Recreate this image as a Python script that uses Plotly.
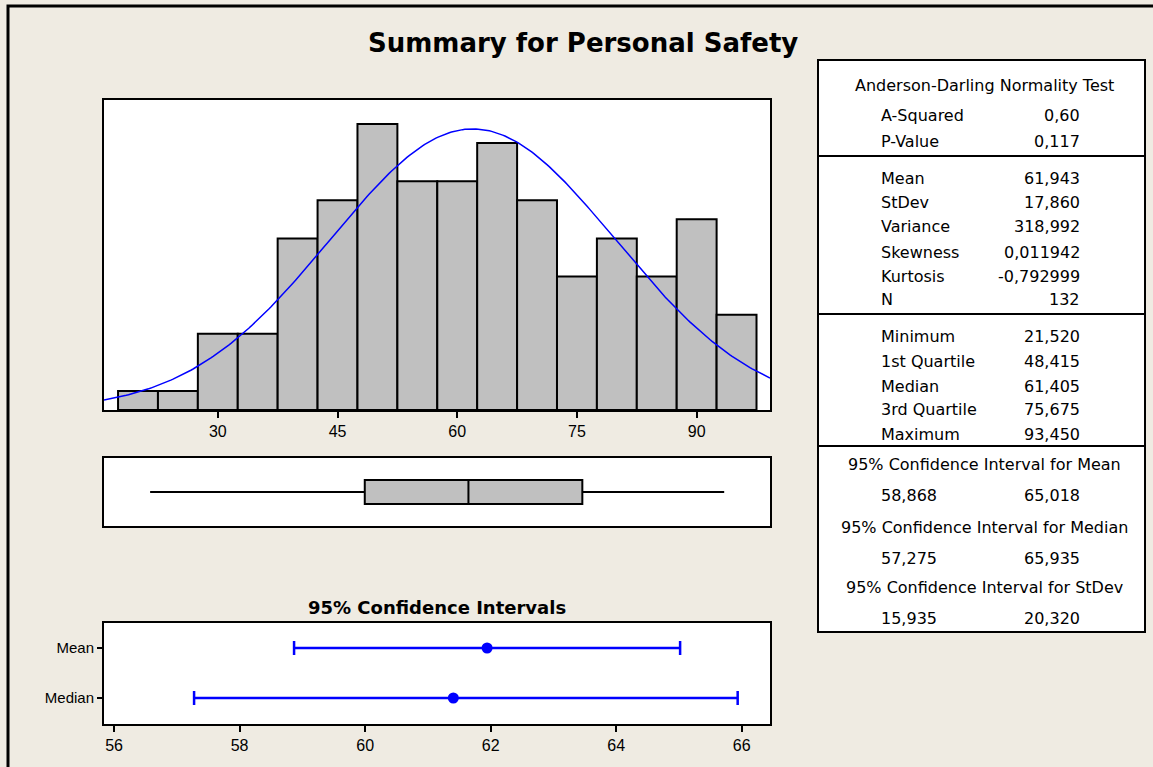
"""Graphical summary: Personal Safety (histogram, boxplot, CI, stats table)"""
import numpy as np
import plotly.graph_objects as go

# histogram data (bin midpoints, counts)
BIN_MIDPOINTS = [20, 25, 30, 35, 40, 45, 50, 55, 60, 65, 70, 75, 80, 85, 90, 95]
COUNTS = [1, 1, 4, 4, 9, 11, 15, 12, 12, 14, 11, 7, 9, 7, 10, 5]
BIN_WIDTH = 5
HIST_TICKS = [30, 45, 60, 75, 90]

# summary statistics
MEAN = 61.943
STDEV = 17.860
N = 132
MINIMUM = 21.520
Q1 = 48.415
MEDIAN = 61.405
Q3 = 75.675
MAXIMUM = 93.450

# 95% confidence intervals
CI_LABELS = ['Mean', 'Median']
CI_CENTERS = [MEAN, MEDIAN]
CI_LOWER = [58.868, 57.275]
CI_UPPER = [65.018, 65.935]
CI_TICKS = [56, 58, 60, 62, 64, 66]

# table text
AD_ROWS = [('A-Squared', '0,60'), ('P-Value', '0,117')]
MOMENT_ROWS = [('Mean', '61,943'), ('StDev', '17,860'), ('Variance', '318,992'),
               ('Skewness', '0,011942'), ('Kurtosis', '-0,792999'), ('N', '132')]
QUANTILE_ROWS = [('Minimum', '21,520'), ('1st Quartile', '48,415'), ('Median', '61,405'),
                 ('3rd Quartile', '75,675'), ('Maximum', '93,450')]
CI_TABLE = [('95% Confidence Interval for Mean', '58,868', '65,018'),
            ('95% Confidence Interval for Median', '57,275', '65,935'),
            ('95% Confidence Interval for StDev', '15,935', '20,320')]

W, H = 1153, 767
BG = '#EFEBE2'
GRAY = '#C0C0C0'
BLUE = '#0000FF'
TABLE_FONT = 'DejaVu Sans, Verdana, sans-serif'
TICK_FONT = 'Liberation Sans, Arial, sans-serif'


def px_x(x):
    return x / W


def px_y(y):
    return 1 - y / H


fig = go.Figure()

# histogram + fitted normal curve
fig.add_trace(go.Bar(
    x=BIN_MIDPOINTS, y=COUNTS, width=BIN_WIDTH,
    marker=dict(color=GRAY, line=dict(color='black', width=2)),
    xaxis='x', yaxis='y', showlegend=False
))
hist_range = [15.74, 99.19]
xs = np.linspace(hist_range[0], hist_range[1], 300)
ys = N * BIN_WIDTH / (STDEV * np.sqrt(2 * np.pi)) * np.exp(-0.5 * ((xs - MEAN) / STDEV) ** 2)
fig.add_trace(go.Scatter(x=xs, y=ys, mode='lines', line=dict(color=BLUE, width=1.5),
                         xaxis='x', yaxis='y', showlegend=False))

# boxplot
fig.add_trace(go.Box(
    y=[0], q1=[Q1], median=[MEDIAN], q3=[Q3],
    lowerfence=[MINIMUM], upperfence=[MAXIMUM],
    orientation='h', width=0.7, whiskerwidth=0, boxpoints=False,
    fillcolor=GRAY, line=dict(color='black', width=2),
    xaxis='x2', yaxis='y2', showlegend=False
))

# confidence intervals
for i, lab in enumerate(CI_LABELS):
    fig.add_trace(go.Scatter(
        x=[CI_CENTERS[i]], y=[1 - i], mode='markers',
        marker=dict(color=BLUE, size=11),
        error_x=dict(type='data', symmetric=False,
                     array=[CI_UPPER[i] - CI_CENTERS[i]],
                     arrayminus=[CI_CENTERS[i] - CI_LOWER[i]],
                     color=BLUE, thickness=2.5, width=7),
        xaxis='x3', yaxis='y3', showlegend=False
    ))

plot_dom = [px_x(104), px_x(770)]
frame = dict(showline=True, mirror=True, linecolor='black', linewidth=2,
             showgrid=False, zeroline=False)
xtickfont = dict(family=TICK_FONT, size=16, color='black')
ytickfont = dict(family=TICK_FONT, size=15, color='black')

fig.update_layout(
    width=W, height=H,
    margin=dict(l=0, r=0, t=0, b=0),
    paper_bgcolor=BG, plot_bgcolor='white',
    xaxis=dict(domain=plot_dom, range=hist_range, tickvals=HIST_TICKS,
               ticks='outside', ticklen=6, tickwidth=2, tickcolor='black',
               tickfont=xtickfont, anchor='y', **frame),
    yaxis=dict(domain=[px_y(410), px_y(100)], range=[0, 16.26],
               showticklabels=False, ticks='', anchor='x', **frame),
    xaxis2=dict(domain=plot_dom, range=hist_range, showticklabels=False,
                ticks='', anchor='y2', **frame),
    yaxis2=dict(domain=[px_y(526), px_y(458)], range=[-1, 1],
                showticklabels=False, ticks='', anchor='x2', **frame),
    xaxis3=dict(domain=plot_dom, range=[55.84, 66.45], tickvals=CI_TICKS,
                ticks='outside', ticklen=6, tickwidth=2, tickcolor='black',
                tickfont=xtickfont, anchor='y3', **frame),
    yaxis3=dict(domain=[px_y(724), px_y(623)], range=[-0.52, 1.5],
                tickvals=[1, 0], ticktext=CI_LABELS,
                ticks='outside', ticklen=5, tickwidth=2, tickcolor='black',
                tickfont=ytickfont, anchor='x3', **frame),
)

shapes = []
annotations = []

# outer graph frame
shapes.append(dict(type='rect', xref='paper', yref='paper',
                   x0=px_x(8), x1=1.05, y0=-0.05, y1=px_y(6),
                   line=dict(color='black', width=3)))

# titles
annotations.append(dict(text='<b>Summary for Personal Safety</b>', x=px_x(583), y=px_y(43),
                        xref='paper', yref='paper', showarrow=False,
                        xanchor='center', yanchor='middle',
                        font=dict(family='DejaVu Sans, Verdana, sans-serif', size=26, color='black')))
annotations.append(dict(text='<b>95% Confidence Intervals</b>', x=px_x(437), y=px_y(607),
                        xref='paper', yref='paper', showarrow=False,
                        xanchor='center', yanchor='middle',
                        font=dict(family='DejaVu Sans, Verdana, sans-serif', size=18, color='black')))

# stats table
tx0, tx1 = 818, 1145
shapes.append(dict(type='rect', xref='paper', yref='paper',
                   x0=px_x(tx0), x1=px_x(tx1), y0=px_y(632), y1=px_y(60),
                   fillcolor='white', line=dict(color='black', width=2), layer='below'))
for ly in [156, 314, 446]:
    shapes.append(dict(type='line', xref='paper', yref='paper',
                       x0=px_x(tx0), x1=px_x(tx1), y0=px_y(ly), y1=px_y(ly),
                       line=dict(color='black', width=2)))

tfont = dict(family=TABLE_FONT, size=16, color='black')


def add_text(text, x, y, anchor):
    annotations.append(dict(text=text, x=px_x(x), y=px_y(y), xref='paper', yref='paper',
                            showarrow=False, xanchor=anchor, yanchor='middle', font=tfont))


lab_x, val_x = 879, 1082
add_text('Anderson-Darling Normality Test', 984, 86, 'center')
for (lab, val), y in zip(AD_ROWS, [116, 142]):
    add_text(lab, lab_x, y, 'left')
    add_text(val, val_x, y, 'right')
for (lab, val), y in zip(MOMENT_ROWS, [178, 203, 227, 252, 276, 300]):
    add_text(lab, lab_x, y, 'left')
    add_text(val, val_x, y, 'right')
for (lab, val), y in zip(QUANTILE_ROWS, [336, 361, 386, 410, 434]):
    add_text(lab, lab_x, y, 'left')
    add_text(val, val_x, y, 'right')
for (head, lo, hi), y in zip(CI_TABLE, [464, 527, 587]):
    add_text(head, 984, y, 'center')
    add_text(lo, lab_x, y + 31, 'left')
    add_text(hi, val_x, y + 31, 'right')

fig.update_layout(shapes=shapes, annotations=annotations)

# page body has a default 8px margin; drop it so the figure fills the window
fig.write_html("out.html", config={'displayModeBar': False},
               post_script="document.body.style.margin='0px';")
